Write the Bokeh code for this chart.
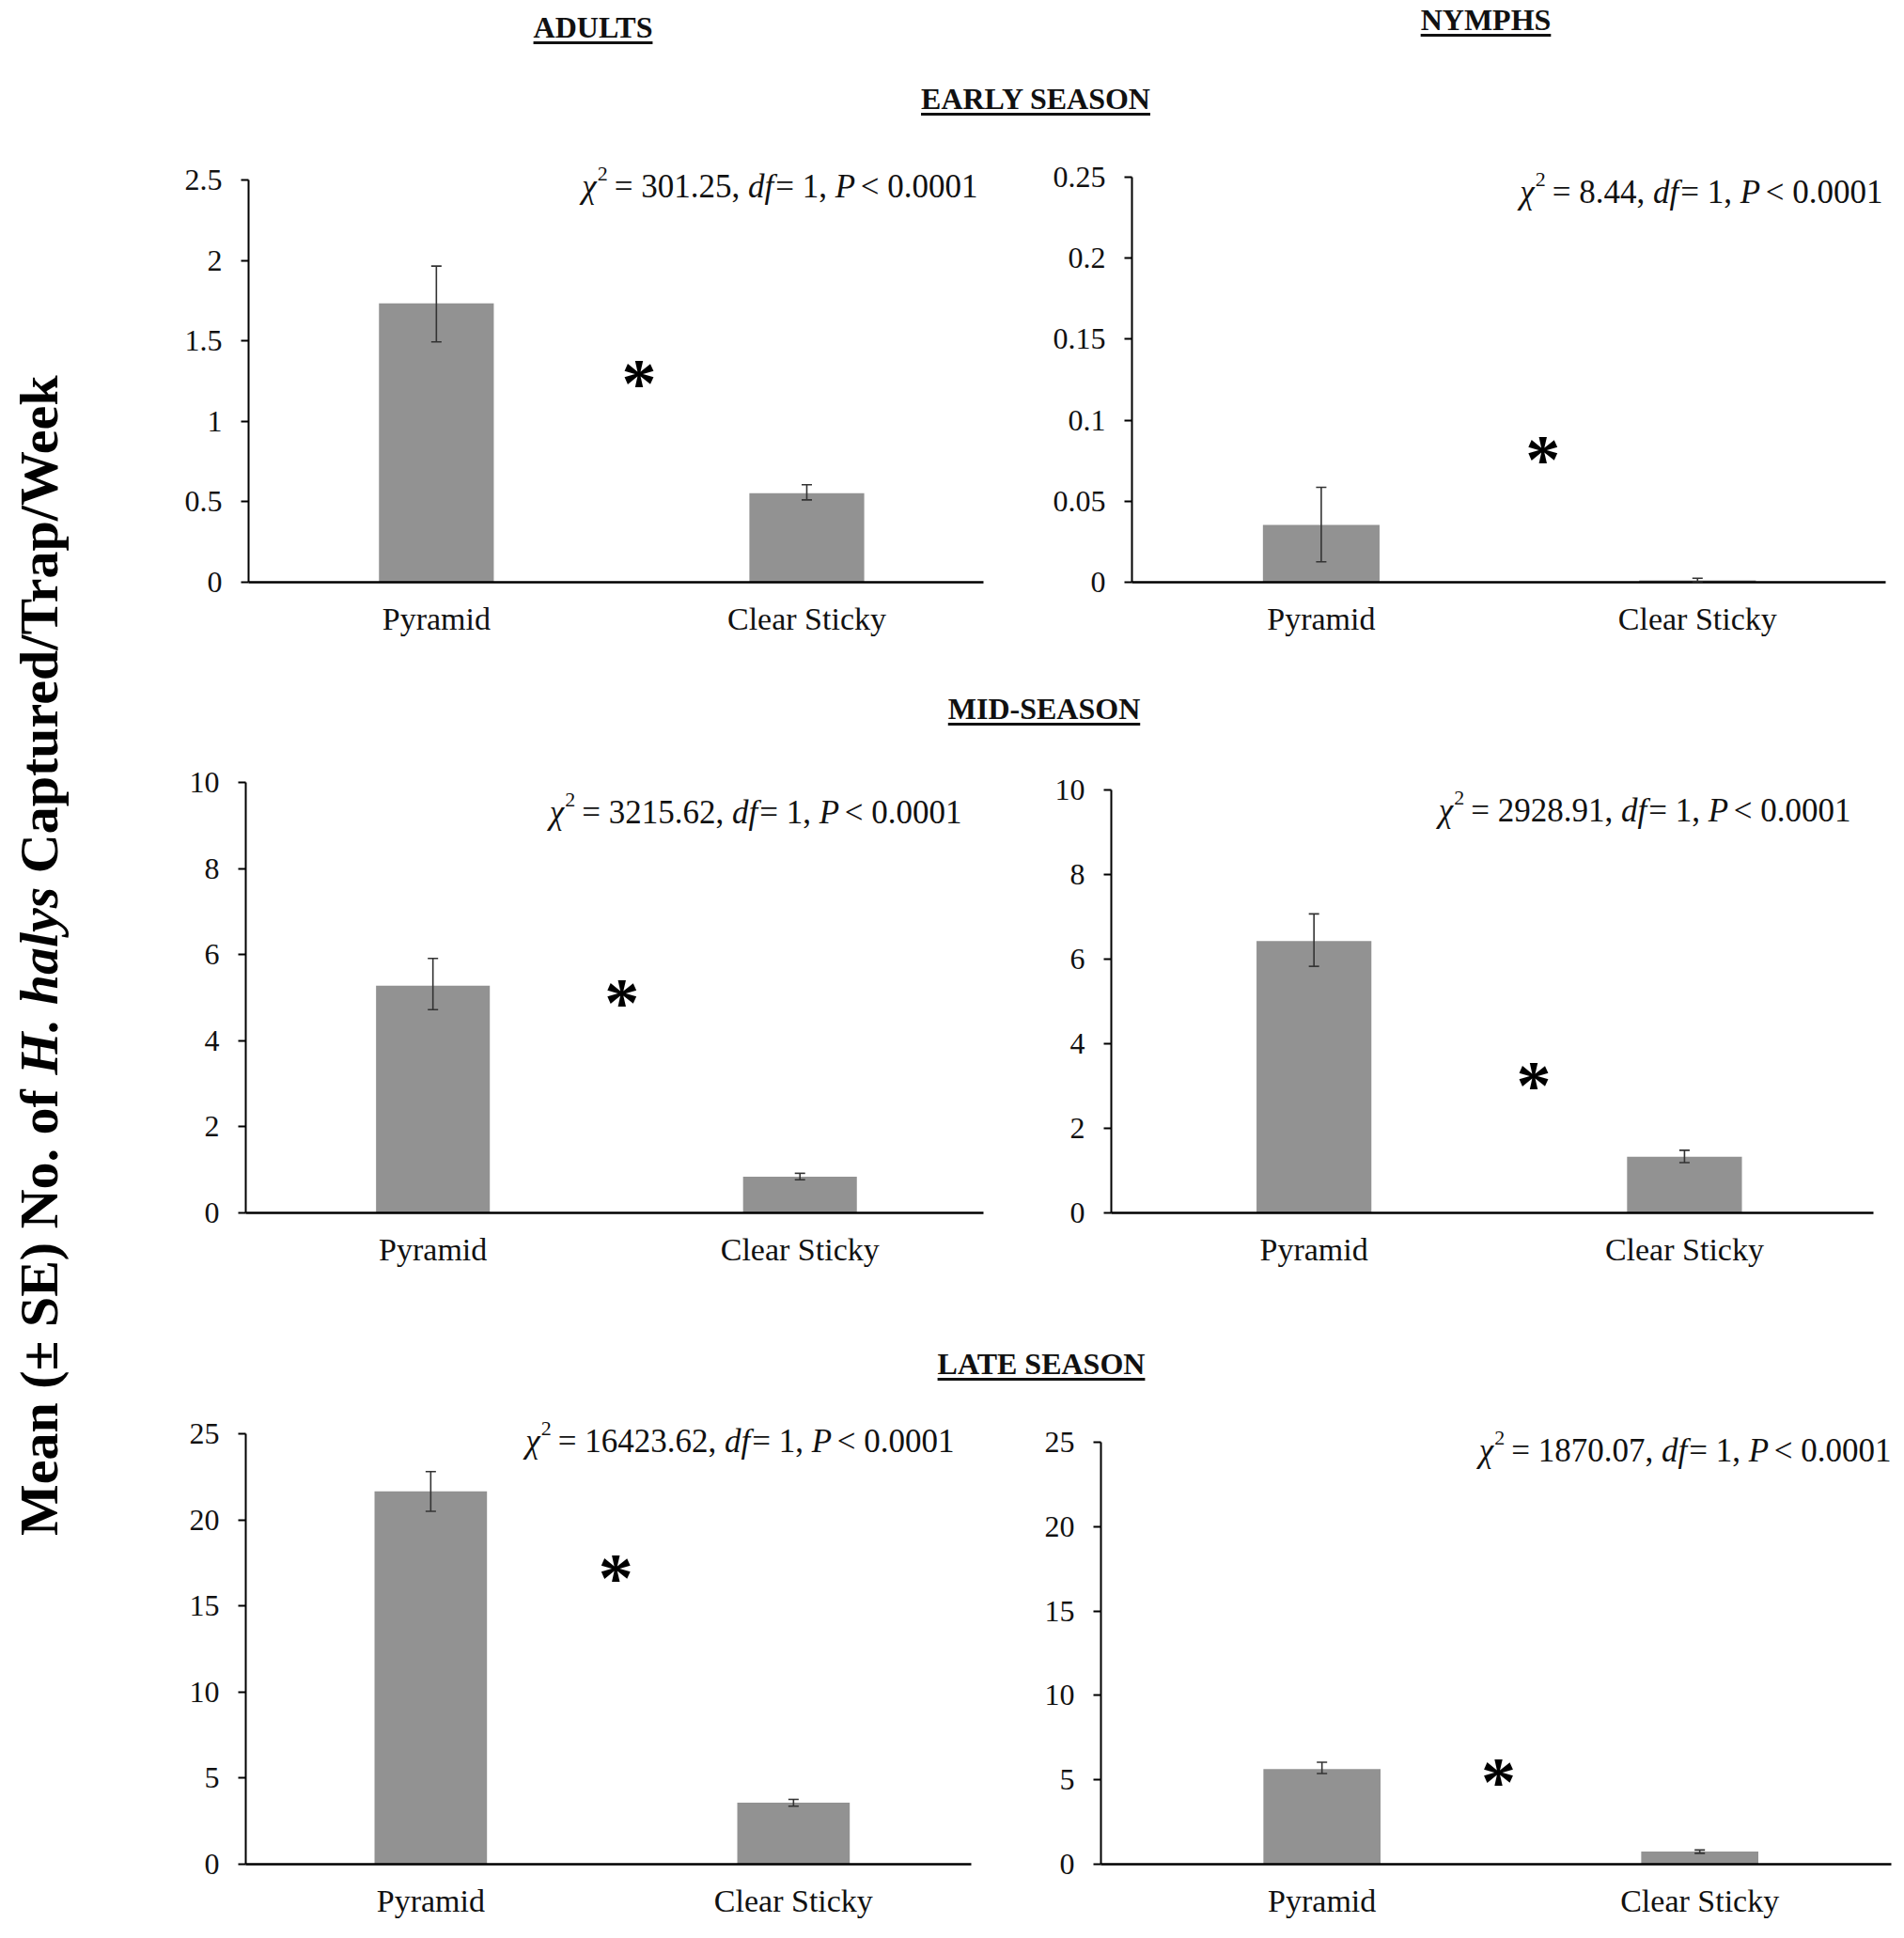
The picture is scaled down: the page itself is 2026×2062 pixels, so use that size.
import math
from bokeh.plotting import figure
from bokeh.layouts import row, column
from bokeh.models import (ColumnDataSource, Whisker, TeeHead, Label, FixedTicker,
                          CustomJSTickFormatter, Range1d, Div)
from bokeh.embed import file_html
from bokeh.resources import INLINE
from bokeh.core.properties import value

# ---------------- data ----------------
categories = ["Pyramid", "Clear Sticky"]

adult_early_mean = [1.733, 0.553]
adult_early_lower = [1.494, 0.512]
adult_early_upper = [1.965, 0.606]
adult_early_ticks = [0, 0.5, 1, 1.5, 2, 2.5]

nymph_early_mean = [0.0354, 0.0011]
nymph_early_lower = [0.0126, 0.0002]
nymph_early_upper = [0.0586, 0.0025]
nymph_early_ticks = [0, 0.05, 0.1, 0.15, 0.2, 0.25]

adult_mid_mean = [5.28, 0.84]
adult_mid_lower = [4.72, 0.77]
adult_mid_upper = [5.91, 0.92]
adult_mid_ticks = [0, 2, 4, 6, 8, 10]

nymph_mid_mean = [6.43, 1.33]
nymph_mid_lower = [5.83, 1.19]
nymph_mid_upper = [7.07, 1.48]
nymph_mid_ticks = [0, 2, 4, 6, 8, 10]

adult_late_mean = [21.65, 3.57]
adult_late_lower = [20.5, 3.37]
adult_late_upper = [22.8, 3.77]
adult_late_ticks = [0, 5, 10, 15, 20, 25]

nymph_late_mean = [5.64, 0.75]
nymph_late_lower = [5.37, 0.65]
nymph_late_upper = [6.04, 0.84]
nymph_late_ticks = [0, 5, 10, 15, 20, 25]

# significance asterisk (x between categories 1..2, y in data units)
asterisk_x = [1.547, 1.589, 1.515, 1.593, 1.51, 1.467]
asterisk_y = [1.29, 0.081, 5.07, 3.22, 17.1, 5.35]

chi2_values = ["301.25", "8.44", "3215.62", "2928.91", "16423.62", "1870.07"]
df_value = "1"
p_text = "0.0001"

column_titles = ["ADULTS", "NYMPHS"]
season_titles = ["EARLY SEASON", "MID-SEASON", "LATE SEASON"]
y_label_parts = ["Mean (\u00b1 SE) No. of ", "H. halys", " Captured/Trap/Week"]

# ---------------- style ----------------
FONT = "Liberation Serif"
BAR_COLOR = "#929292"
ERR_COLOR = "#333333"

# Times / Liberation Serif advance widths (1/1000 em)
W_REG = {' ': 250, '.': 250, ',': 250, '=': 564, '<': 564}
W_REG.update({str(d): 500 for d in range(10)})
W_ITA = {'\u03c7': 440, 'd': 500, 'f': 278, 'P': 611}
W_BOLD = {'M': 944, 'e': 444, 'a': 500, 'n': 556, ' ': 250, '(': 333, '\u00b1': 570,
          'S': 556, 'E': 667, ')': 333, 'N': 722, 'o': 500, '.': 250, 'f': 333,
          'C': 722, 'p': 556, 't': 333, 'u': 556, 'r': 444, 'd': 556, '/': 278,
          'T': 667, 'W': 1000, 'k': 556}
W_BI = {'H': 778, '.': 250, ' ': 250, 'h': 556, 'a': 500, 'l': 278, 'y': 444, 's': 389}


def tw(s, table, size):
    return sum(table.get(c, 500) for c in s) / 1000.0 * size


def lead_spaces(s):
    return len(s) - len(s.lstrip(' '))


def make_panel(fig_x0, fig_y0, fig_w, fig_h, axis_left, frame_right, axis_top,
               frame_top, frame_bottom, xr, means, lows, highs, ticks,
               sx, sy, chi, ann_end, ann_base):
    ytop = ticks[-1]
    y_end = ytop * (frame_bottom - frame_top) / (frame_bottom - axis_top)
    p = figure(width=fig_w, height=fig_h, x_range=Range1d(*xr),
               y_range=Range1d(0, y_end), output_backend="svg",
               toolbar_location=None,
               min_border_left=axis_left - fig_x0,
               min_border_right=fig_x0 + fig_w - frame_right,
               min_border_top=frame_top - fig_y0,
               min_border_bottom=fig_y0 + fig_h - frame_bottom)
    p.outline_line_color = None
    p.grid.visible = False
    p.background_fill_color = "white"
    p.border_fill_color = "white"

    src = ColumnDataSource(dict(x=[1, 2], mean=means, lower=lows, upper=highs))
    p.vbar(x="x", top="mean", width=0.31, source=src, fill_color=BAR_COLOR,
           line_color=None)
    w = Whisker(source=src, base="x", upper="upper", lower="lower",
                line_color=ERR_COLOR, line_width=1.6, level="annotation",
                upper_head=TeeHead(size=11, line_color=ERR_COLOR, line_width=1.6),
                lower_head=TeeHead(size=11, line_color=ERR_COLOR, line_width=1.6))
    p.add_layout(w)

    p.text(x=[sx], y=[sy], text=["*"], text_font=value(FONT),
           text_font_style="bold", text_font_size="74px", text_align="center",
           text_baseline="middle", text_color="black", y_offset=9)

    # axes
    xa = p.xaxis[0]
    xa.ticker = FixedTicker(ticks=[1, 2])
    xa.formatter = CustomJSTickFormatter(args=dict(labels=categories),
                                         code="return labels[Math.round(tick) - 1];")
    xa.major_tick_out = 0
    xa.major_tick_in = 0
    xa.minor_tick_out = 0
    xa.minor_tick_in = 0
    xa.axis_line_width = 2.5
    xa.axis_line_color = "black"
    xa.major_label_text_font = FONT
    xa.major_label_text_font_size = "34px"
    xa.major_label_text_color = "#111111"
    xa.major_label_standoff = 20

    ya = p.yaxis[0]
    ya.ticker = FixedTicker(ticks=ticks)
    ya.formatter = CustomJSTickFormatter(code="return String(tick);")
    ya.bounds = (0, ytop)
    ya.major_tick_out = 8
    ya.major_tick_in = 0
    ya.minor_tick_out = 0
    ya.minor_tick_in = 0
    ya.axis_line_width = 2
    ya.major_tick_line_width = 2
    ya.axis_line_color = "black"
    ya.major_tick_line_color = "black"
    ya.major_label_text_font = FONT
    ya.major_label_text_font_size = "32px"
    ya.major_label_text_color = "#111111"
    ya.major_label_standoff = 20

    # statistics annotation, built from pieces (italic / superscript)
    # (text, style, size, rise, width table, gap before in em)
    S = 35
    sup = round(S * 0.62)
    pieces = [("\u03c7", "italic", S, 0, W_ITA, 0.0),
              ("2", "normal", sup, round(S * 0.40), W_REG, 0.03),
              ("= " + chi + ",", "normal", S, 0, W_REG, 0.2),
              ("df", "italic", S, 0, W_ITA, 0.25),
              ("= " + df_value + ",", "normal", S, 0, W_REG, 0.06),
              ("P", "italic", S, 0, W_ITA, 0.25),
              ("< " + p_text, "normal", S, 0, W_REG, 0.16)]
    total = sum(tw(t, tab, sz) + g * S for t, _, sz, _, tab, g in pieces)
    cx = (ann_end - axis_left) - total
    base_y = frame_bottom - ann_base
    for t, style, sz, rise, tab, g in pieces:
        cx += g * S
        p.add_layout(Label(x=cx, y=base_y + rise, x_units="screen",
                           y_units="screen", text=t, text_font=FONT,
                           text_font_style=style, text_font_size=f"{sz}px",
                           text_baseline="alphabetic", text_align="left",
                           text_color="#111111"))
        cx += tw(t, tab, sz)
    return p


YLAB_W = 101
A_X0, A_W = 100, 1000
N_X0, N_W = 1100, 912
R1_Y0, R1_H = 160, 545
R2_Y0, R2_H = 800, 600
R3_Y0, R3_H = 1500, 554

# shared frame top / bottom per row (page px)
R1_TOP, R1_BOT = 165, 620
R2_TOP, R2_BOT = 825, 1290
R3_TOP, R3_BOT = 1502, 1983

pAe = make_panel(A_X0, R1_Y0, A_W, R1_H, 263, 1045, 192, R1_TOP, R1_BOT, (0.493, 2.477),
                 adult_early_mean, adult_early_lower, adult_early_upper, adult_early_ticks,
                 asterisk_x[0], asterisk_y[0], chi2_values[0], 1039, 199)
pNe = make_panel(N_X0, R1_Y0, N_W, R1_H, 1203, 2005, 189, R1_TOP, R1_BOT, (0.497, 2.50),
                 nymph_early_mean, nymph_early_lower, nymph_early_upper, nymph_early_ticks,
                 asterisk_x[1], asterisk_y[1], chi2_values[1], 2002, 205)
pAm = make_panel(A_X0, R2_Y0, A_W, R2_H, 260, 1045, 832, R2_TOP, R2_BOT, (0.49, 2.50),
                 adult_mid_mean, adult_mid_lower, adult_mid_upper, adult_mid_ticks,
                 asterisk_x[2], asterisk_y[2], chi2_values[2], 1022, 864)
pNm = make_panel(N_X0, R2_Y0, N_W, R2_H, 1181, 1992, 840, R2_TOP, R2_BOT, (0.453, 2.51),
                 nymph_mid_mean, nymph_mid_lower, nymph_mid_upper, nymph_mid_ticks,
                 asterisk_x[3], asterisk_y[3], chi2_values[3], 1968, 862)
pAl = make_panel(A_X0, R3_Y0, A_W, R3_H, 260, 1032, 1525, R3_TOP, R3_BOT, (0.49, 2.49),
                 adult_late_mean, adult_late_lower, adult_late_upper, adult_late_ticks,
                 asterisk_x[4], asterisk_y[4], chi2_values[4], 1014, 1533)
pNl = make_panel(N_X0, R3_Y0, N_W, R3_H, 1170, 2011, 1534, R3_TOP, R3_BOT, (0.415, 2.507),
                 nymph_late_mean, nymph_late_lower, nymph_late_upper, nymph_late_ticks,
                 asterisk_x[5], asterisk_y[5], chi2_values[5], 2011, 1543)


def header_div(items, w, h):
    spans = ""
    for txt, x, y in items:
        spans += (f'<span style="position:absolute;left:{x}px;top:{y}px;'
                  f'transform:translate(-50%,-50%);white-space:nowrap;line-height:1;'
                  f'font-family:\'{FONT}\';font-weight:bold;font-size:32px;color:#111;'
                  f'text-decoration:underline;text-decoration-thickness:3px;'
                  f'text-underline-offset:4px;">{txt}</span>')
    html = (f'<div style="position:relative;width:{w}px;height:{h}px;">{spans}</div>')
    return Div(text=html, width=w, height=h)


HDR_W = A_W + N_W
H1, H2, H3 = 149, 86, 90
hdr1 = header_div([(column_titles[0], 525, 24), (column_titles[1], 1475, 16),
                   (season_titles[0], 996, 100)], HDR_W, H1)
hdr2 = header_div([(season_titles[1], 1005, 45)], HDR_W, H2)
hdr3 = header_div([(season_titles[2], 1002, 46)], HDR_W, H3)

TOTAL_H = H1 + R1_H + H2 + R2_H + H3 + R3_H

# rotated y label
ylab = figure(width=YLAB_W, height=TOTAL_H, x_range=Range1d(0, YLAB_W),
              y_range=Range1d(0, TOTAL_H), output_backend="svg",
              toolbar_location=None, x_axis_location=None, y_axis_location=None,
              min_border=0, min_border_left=0, min_border_right=0,
              min_border_top=0, min_border_bottom=0)
ylab.outline_line_color = None
ylab.grid.visible = False
YS = 58
ystyles = [("bold", W_BOLD), ("bold italic", W_BI), ("bold", W_BOLD)]
ltot = sum(tw(t, tab, YS) for t, (_, tab) in zip(y_label_parts, ystyles))
cy = (TOTAL_H - 1012) - ltot / 2
for t, (style, tab) in zip(y_label_parts, ystyles):
    lead = lead_spaces(t) * 250 / 1000.0 * YS
    ylab.add_layout(Label(x=41, y=cy + lead, x_units="screen", y_units="screen",
                          text=t.strip(), angle=math.pi / 2, text_font=FONT,
                          text_font_style=style, text_font_size=f"{YS}px",
                          text_baseline="middle", text_align="left",
                          text_color="black"))
    cy += tw(t, tab, YS)

layout = row(ylab, column(hdr1, row(pAe, pNe), hdr2, row(pAm, pNm), hdr3, row(pAl, pNl)))

open("out.html", "w").write(file_html(layout, INLINE))
